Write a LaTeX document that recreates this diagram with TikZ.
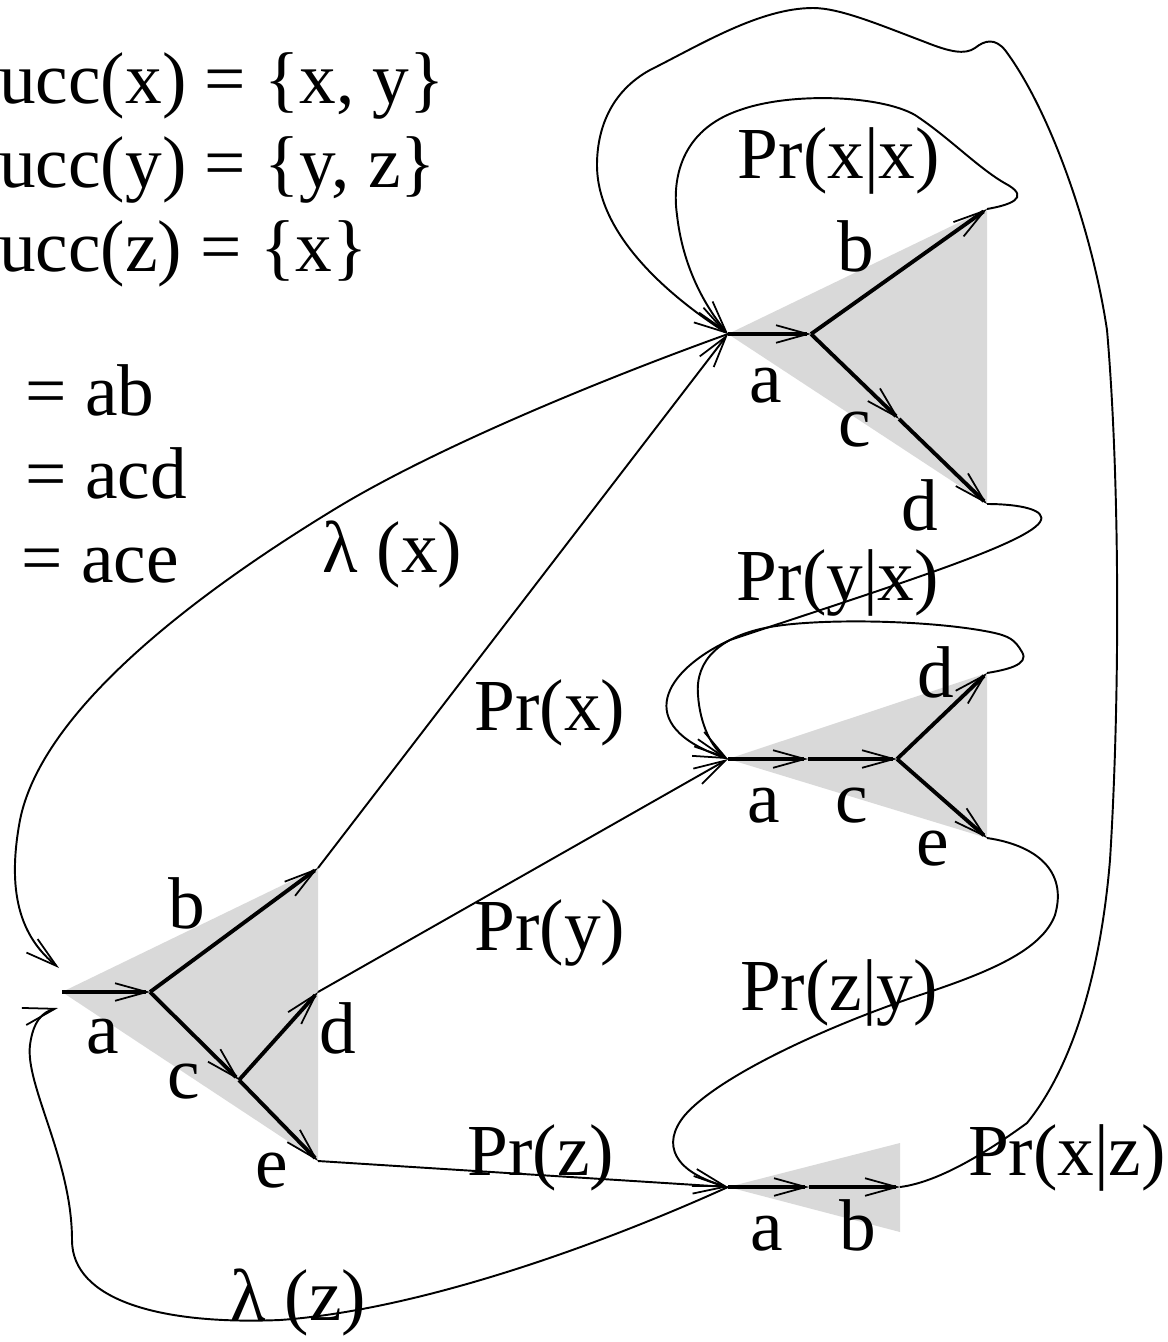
\documentclass[tikz,border=0pt]{standalone}
\usepackage{fontspec}
\setmainfont{Liberation Serif}
\usetikzlibrary{arrows.meta}

\begin{document}
\begin{tikzpicture}[x=0.01cm, y=-0.01cm, font=\fontsize{20.85}{25}\selectfont,
  lbl/.style={inner sep=0pt, anchor=base},
  txt/.style={inner sep=0pt, anchor=base west},
  tip/.style={-{Straight Barb[length=9pt, width=5pt, line width=0.5pt]}},
  sym/.style={tip, line width=1.1pt},
  trans/.style={tip, line width=0.55pt},
  shade/.style={fill=black!15}]
\useasboundingbox (0,0) rectangle (1168,1342);

\node[txt] (sx) at (-1.5,103) {ucc(x) = \{x, y\}};
\node[txt] (sy) at (-1.5,187) {ucc(y) = \{y, z\}};
\node[txt] (sz) at (-1.5,271) {ucc(z) = \{x\}};
\node[txt] (wx) at (25,415) {= ab};
\node[txt] (wy) at (25,498) {= acd};
\node[txt] (wz) at (21,582) {= ace};

% start
\coordinate (s0) at (62,992);
\coordinate (s1) at (150,992);
\coordinate (sb) at (318,868);
\coordinate (s2) at (239,1080);
\coordinate (sd) at (318,992);
\coordinate (se) at (318,1161);
\coordinate (lxin) at (59,968);
\coordinate (lzin) at (58,1008);
% state x
\coordinate (x0) at (728,334);
\coordinate (x1) at (811,334);
\coordinate (xb) at (987,209);
\coordinate (x2) at (899,419);
\coordinate (xd) at (987,504);
% state y
\coordinate (y0) at (728,759);
\coordinate (y1) at (808,759);
\coordinate (y2) at (897,759);
\coordinate (yd) at (987,673);
\coordinate (ye) at (987,838);
% state z
\coordinate (z0) at (728,1187);
\coordinate (z1) at (809,1187);
\coordinate (zb) at (900,1187);

\fill[shade] (s0) -- (sb) -- (se) -- cycle;
\fill[shade] (x0) -- (xb) -- (xd) -- cycle;
\fill[shade] (y0) -- (yd) -- (ye) -- cycle;
\fill[shade] (z0) -- (900,1143) -- (900,1232) -- cycle;

\draw[trans] (sb) -- (x0);
\draw[trans] (sd) -- (y0);
\draw[trans] (se) -- (z0);
\draw[trans] (x0) .. controls (600,380) and (430,450) .. (330,512)
  .. controls (170,610) and (40,720) .. (20,820) .. controls (5,900) and (25,940) .. (lxin);
\draw[trans] (z0) .. controls (600,1245) and (420,1310) .. (280,1320)
  .. controls (160,1325) and (72,1300) .. (72,1240) .. controls (72,1160) and (25,1085) .. (30,1045)
  .. controls (33,1022) and (42,1012) .. (lzin);
\draw[trans] (xb) .. controls (1010,205) and (1030,198) .. (1008,185)
  .. controls (980,170) and (950,138) .. (915,115) .. controls (880,95) and (790,92) .. (740,110)
  .. controls (680,130) and (672,180) .. (677,215) .. controls (682,260) and (700,300) .. (x0);
\draw[trans] (zb) .. controls (940,1182) and (990,1150) .. (1027,1123)
  .. controls (1070,1070) and (1100,980) .. (1110,860) .. controls (1120,700) and (1120,480) .. (1107,330)
  .. controls (1092,230) and (1050,110) .. (1005,50) .. controls (995,38) and (985,40) .. (975,48)
  .. controls (965,55) and (950,52) .. (925,42) .. controls (880,25) and (840,8) .. (813,8)
  .. controls (760,8) and (700,45) .. (650,70) .. controls (610,92) and (597,130) .. (597,165)
  .. controls (597,230) and (660,290) .. (x0);
\draw[trans] (xd) .. controls (1020,504) and (1048,510) .. (1040,522)
  .. controls (1025,545) and (880,590) .. (730,640) .. controls (665,670) and (630,725) .. (y0);
\draw[trans] (yd) .. controls (1005,670) and (1030,665) .. (1022,652)
  .. controls (1015,640) and (1010,636) .. (990,632) .. controls (930,620) and (820,618) .. (770,627)
  .. controls (720,636) and (695,660) .. (698,695) .. controls (700,725) and (712,748) .. (y0);
\draw[trans] (ye) .. controls (1035,845) and (1068,870) .. (1055,915)
  .. controls (1042,950) and (990,972) .. (920,995) .. controls (830,1025) and (720,1075) .. (685,1115)
  .. controls (660,1145) and (675,1172) .. (z0);

\draw[sym] (s0) -- (s1);
\draw[sym] (s1) -- (sb);
\draw[sym] (s1) -- (s2);
\draw[sym] (s2) -- (sd);
\draw[sym] (s2) -- (se);
\draw[sym] (x0) -- (x1);
\draw[sym] (x1) -- (xb);
\draw[sym] (x1) -- (x2);
\draw[sym] (x2) -- (xd);
\draw[sym] (y0) -- (y1);
\draw[sym] (y1) -- (y2);
\draw[sym] (y2) -- (yd);
\draw[sym] (y2) -- (ye);
\draw[sym] (z0) -- (z1);
\draw[sym] (z1) -- (zb);

\node[lbl] (sla) at (103,1053) {a};
\node[lbl] (slb) at (187,928) {b};
\node[lbl] (slc) at (184,1098) {c};
\node[lbl] (sld) at (338,1053) {d};
\node[lbl] (sle) at (272,1187) {e};
\node[lbl] (xla) at (766,402) {a};
\node[lbl] (xlb) at (856,271) {b};
\node[lbl] (xlc) at (855,446) {c};
\node[lbl] (xld) at (920,530) {d};
\node[lbl] (yla) at (764,822) {a};
\node[lbl] (ylc) at (852,822) {c};
\node[lbl] (yld) at (936,697) {d};
\node[lbl] (yle) at (933,865) {e};
\node[lbl] (zla) at (767,1250) {a};
\node[lbl] (zlb) at (858,1250) {b};

\node[lbl] (pxx) at (839,178) {Pr(x|x)};
\node[lbl] (pyx) at (838,600) {Pr(y|x)};
\node[lbl] (pzy) at (839,1010) {Pr(z|y)};
\node[lbl] (pxz) at (1067,1175) {Pr(x|z)};
\node[lbl] (px) at (550,730) {Pr(x)};
\node[lbl] (py) at (550,950) {Pr(y)};
\node[lbl] (pz) at (541,1175) {Pr(z)};
\node[txt] (lx) at (322,572) {λ (x)};
\node[txt] (lz) at (230,1320) {λ (z)};
\end{tikzpicture}
\end{document}
